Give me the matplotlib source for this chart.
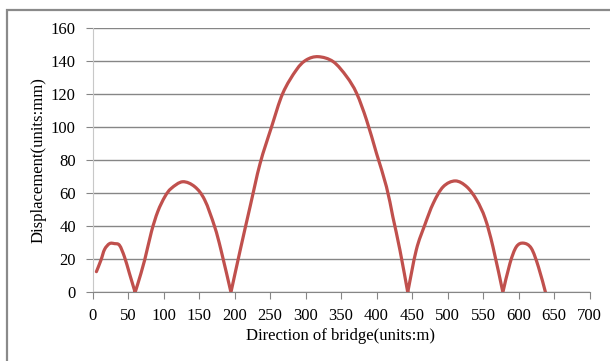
import matplotlib.pyplot as plt
from matplotlib.patches import Rectangle, PathPatch
from matplotlib.path import Path

# position along the bridge (m) and displacement (mm)
pos = [5.5, 12, 17, 24, 31, 38, 45, 52, 60,
       64, 73.5, 83, 92, 102, 111, 127, 144, 158, 172, 181, 195,
       208, 222, 236, 252, 268, 287, 301, 318, 339, 358, 372, 386, 400, 414, 423, 433, 444,
       456, 468, 480, 494, 511, 527, 541, 553, 564, 578,
       588, 597, 607, 618, 628, 638]
disp = [12.5, 19.6, 26, 29.5, 29.5, 28.5, 21.5, 11.5, 0,
        5.4, 19.6, 36.7, 49, 58, 63, 67, 64, 56, 39.8, 25.6, 0,
        25.5, 52, 78, 100, 120.6, 134.7, 140.8, 142.8, 139.8, 130.7, 120.6, 104.4, 84.2, 64, 45.8, 25.6, 0,
        25.6, 40.8, 54, 64, 67.5, 64, 56, 44.8, 27.6, 0,
        17.6, 27.6, 29.8, 26.7, 15.5, 0]

xticks = list(range(0, 701, 50))
yticks = list(range(0, 161, 20))

plt.rcParams['font.family'] = ['Liberation Serif', 'DejaVu Serif']


def smooth_path(xs, ys):
    # Excel-style smoothed line: Catmull-Rom turned into cubic Bezier pieces,
    # with sharp corners kept at the zero points
    verts = [(xs[0], ys[0])]
    codes = [Path.MOVETO]
    breaks = [0] + [i for i in range(1, len(ys) - 1) if ys[i] == 0] + [len(ys) - 1]
    for a, b in zip(breaks[:-1], breaks[1:]):
        for i in range(a, b):
            p0 = (xs[max(i - 1, a)], ys[max(i - 1, a)])
            p1 = (xs[i], ys[i])
            p2 = (xs[i + 1], ys[i + 1])
            p3 = (xs[min(i + 2, b)], ys[min(i + 2, b)])
            c1 = (p1[0] + (p2[0] - p0[0]) / 6, p1[1] + (p2[1] - p0[1]) / 6)
            c2 = (p2[0] - (p3[0] - p1[0]) / 6, p2[1] - (p3[1] - p1[1]) / 6)
            verts += [c1, c2, p2]
            codes += [Path.CURVE4] * 3
    return Path(verts, codes)


fig = plt.figure(figsize=(6.1, 3.61), dpi=100)
ax = fig.add_axes([92.5/610, 1-292.3/361, 497/610, 264/361])

# outer chart border (runs off the right and bottom edges)
fig.patches.append(Rectangle((7/610, -0.2), 1.2, 1-10/361+0.2, transform=fig.transFigure,
                             fill=False, edgecolor='#8a8a8a', linewidth=1.6))

ax.add_patch(PathPatch(smooth_path(pos, disp), fill=False, edgecolor='#C0504D',
                       linewidth=2.3, joinstyle='round', capstyle='round'))

ax.set_xlim(0, 700)
ax.set_ylim(0, 160)
ax.set_xticks(xticks)
ax.set_yticks(yticks)
ax.grid(axis='y', color='#868686', linewidth=1)
ax.set_axisbelow(True)

for s in ['top', 'right']:
    ax.spines[s].set_visible(False)
ax.spines['left'].set_color('#c8c8c8')
ax.spines['bottom'].set_color('#868686')
ax.tick_params(axis='x', direction='out', length=5, color='#868686', labelsize=12, pad=6)
ax.tick_params(axis='y', direction='out', length=5, color='#868686', labelsize=12, pad=7)

ax.set_xlabel('Direction of bridge(units:m)', fontsize=12, labelpad=3)
ax.set_ylabel('Displacement(units:mm)', fontsize=12, labelpad=3)

fig.savefig('out.png', dpi=100)
